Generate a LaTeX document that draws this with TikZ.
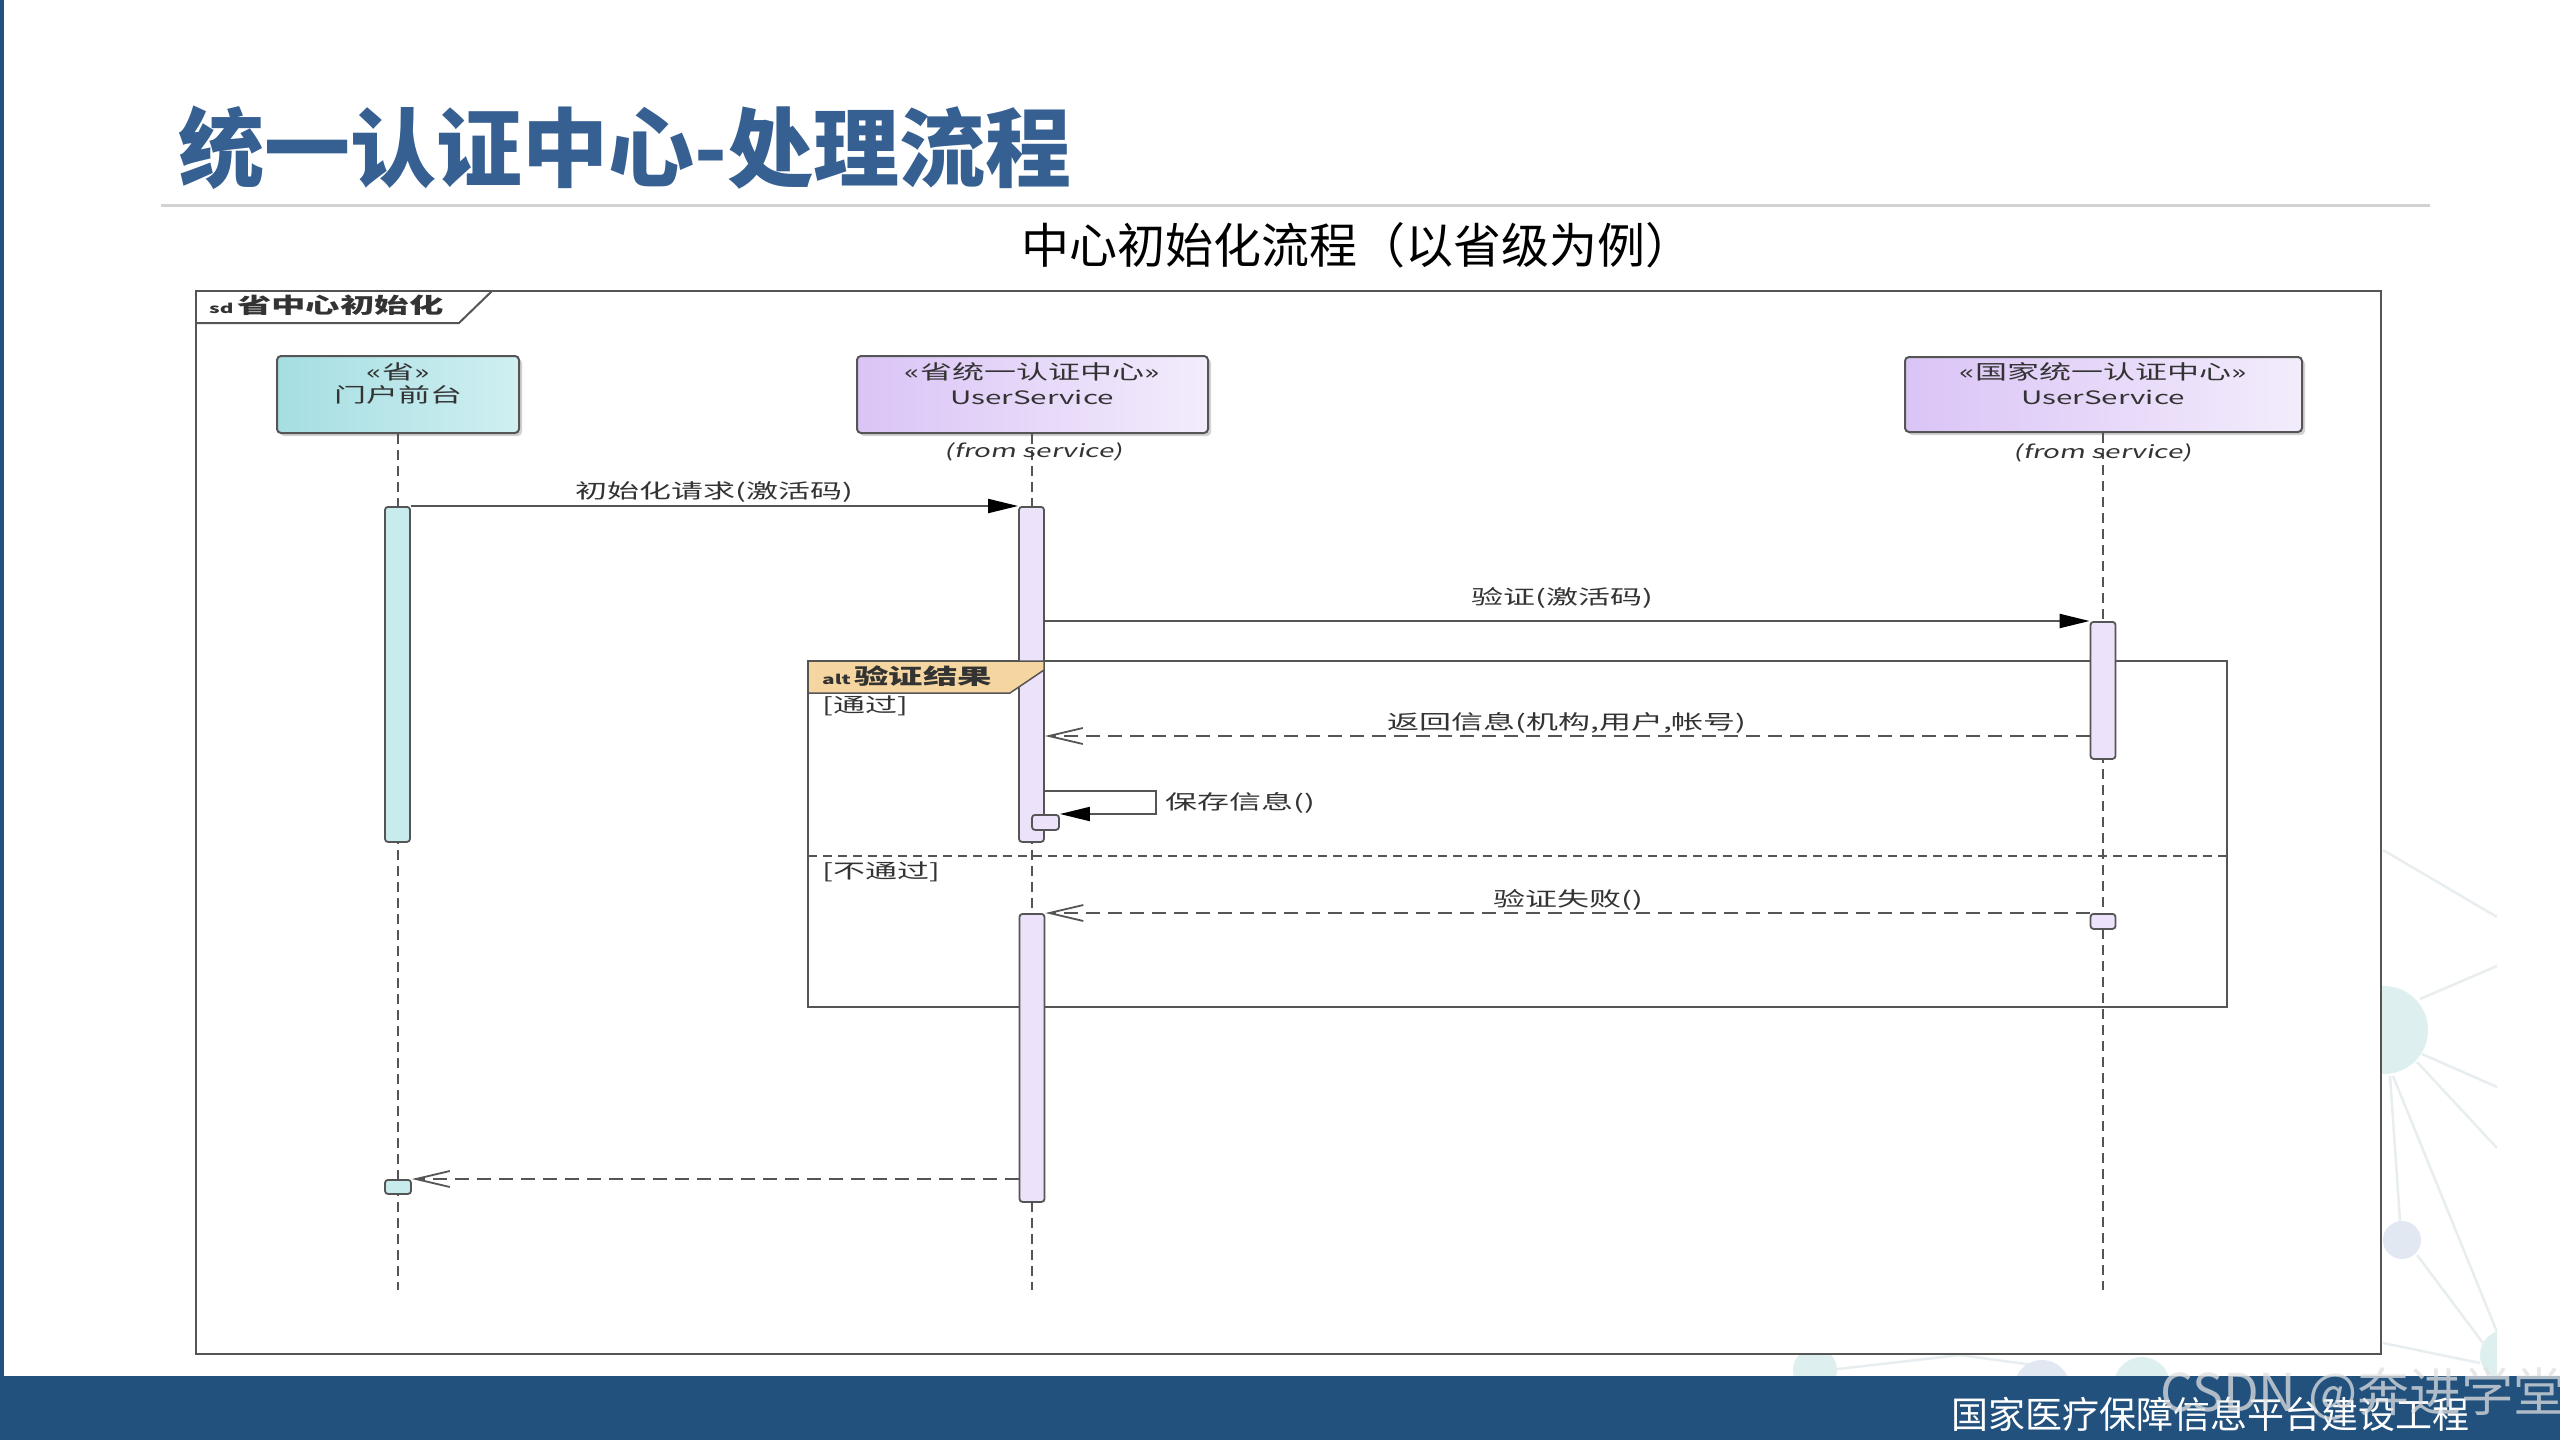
\documentclass[tikz,border=0pt]{standalone}
\usepackage{fontspec}
\usetikzlibrary{arrows.meta,shadows,shadings}
\newfontfamily\cjk{Noto Sans CJK SC}
\newfontfamily\dgm[FakeStretch=1.6]{Noto Sans CJK SC}
\newfontfamily\dgmit[FakeStretch=1.55,FakeSlant=0.2]{Noto Sans CJK SC}
\definecolor{titleblue}{RGB}{54,96,146}
\definecolor{band}{RGB}{34,81,125}
\definecolor{edge}{RGB}{85,85,85}
\definecolor{ink}{RGB}{51,51,51}
\definecolor{tealA}{RGB}{165,222,226}
\definecolor{tealB}{RGB}{208,239,241}
\definecolor{tealbar}{RGB}{200,236,238}
\definecolor{purA}{RGB}{218,196,246}
\definecolor{purB}{RGB}{243,236,252}
\definecolor{purbar}{RGB}{236,226,250}
\definecolor{altfill}{RGB}{246,214,160}
\definecolor{deco}{RGB}{222,239,240}
\definecolor{decoB}{RGB}{225,232,241}
\definecolor{decoline}{RGB}{232,238,240}
\definecolor{rule}{RGB}{210,210,210}
\begin{document}
\begin{tikzpicture}[x=1pt,y=-1pt,
  head/.style={draw=edge, line width=2pt, rounded corners=4pt, inner sep=0pt,
    drop shadow={shadow xshift=3pt, shadow yshift=-3pt, opacity=.35, fill=gray}},
  tealhead/.style={head, left color=tealA, right color=tealB},
  purhead/.style={head, left color=purA, right color=purB},
  htext/.style={inner sep=0pt, text=ink, font=\dgm\fontsize{20}{22}\selectfont},
  htextsm/.style={inner sep=0pt, text=ink, font=\dgm\fontsize{18.5}{20}\selectfont},
  fromtxt/.style={inner sep=0pt, text=ink, font=\dgmit\fontsize{18}{20}\selectfont},
  actbar/.style={draw=edge, line width=1.8pt, rounded corners=3pt, inner sep=0pt, anchor=north, minimum width=25pt},
  life/.style={draw=edge, line width=1.8pt, dash pattern=on 10pt off 6pt},
  call/.style={draw=edge, line width=2pt, -{Triangle[length=30pt,width=14pt,fill=black,color=black]}},
  ret/.style={draw=edge, line width=1.8pt, dash pattern=on 14pt off 8pt, -{Straight Barb[length=34pt,width=16pt,line width=1.8pt]}},
  msg/.style={inner sep=0pt, text=ink, font=\dgm\fontsize{20}{22}\selectfont},
  bold/.style={inner sep=0pt, text=ink, font=\dgm\bfseries\fontsize{21.5}{23}\selectfont}]
\useasboundingbox (0,0) rectangle (2560,1440);
\fill[white] (0,0) rectangle (2560,1440);
% background decoration
\begin{scope}
\clip (0,0) rectangle (2497,1440);
\begin{scope}[draw=decoline, line width=2.5pt]
\draw (2383,850) -- (2497,917);
\draw (2420,999) -- (2497,966);
\draw (2422,1054) -- (2497,1087);
\draw (2417,1062) -- (2497,1148);
\draw (2390,1076) -- (2400,1221);
\draw (2393,1076) -- (2497,1332);
\draw (2417,1255) -- (2483,1343);
\draw (2383,1343) -- (2480,1363);
\draw (1829,1370) -- (1960,1355) -- (2033,1365);
\end{scope}
\fill[deco] (2384,1030) circle (44);
\fill[decoB] (2402,1240) circle (19);
\fill[deco] (2505,1355) circle (25);
\fill[deco] (1815,1370) circle (22);
\fill[decoB] (2042,1388) circle (28);
\fill[deco] (2142,1385) circle (28);
\end{scope}
% slide chrome
\fill[band] (0,1376) rectangle (2560,1440);
\fill[band] (0,0) rectangle (4,1376);
\node[anchor=west, inner sep=0pt, text=titleblue, font=\cjk\bfseries\fontsize{86}{90}\selectfont] (title) at (178,148) {统一认证中心-处理流程};
\draw[rule, line width=3pt] (161,205) -- (2430,205);
\node[inner sep=0pt, text=black, font=\cjk\fontsize{48}{52}\selectfont] (subtitle) at (1357,245) {中心初始化流程（以省级为例）};
\node[inner sep=0pt, text=white, font=\cjk\fontsize{37}{40}\selectfont] (footer) at (2210,1414) {国家医疗保障信息平台建设工程};
\node[anchor=west, inner sep=0pt, text=white!75!gray, opacity=0.75, font=\cjk\fontsize{52}{54}\selectfont] (watermark) at (2160,1394) {CSDN @奔进学堂};
% frame
\draw[draw=edge, fill=white, line width=2.5pt] (196,291) rectangle (2381,1354);
\draw[draw=edge, line width=2pt] (196,323) -- (459,323) -- (492,291);
\node[bold, anchor=west] (sdlabel) at (209,305) {{\fontsize{13}{14}\selectfont sd}\,省中心初始化};
% heads
\node[tealhead, minimum width=242pt, minimum height=77pt] (h1) at (398,394.5) {};
\node[purhead, minimum width=351pt, minimum height=77pt] (h2) at (1032.5,394.5) {};
\node[purhead, minimum width=397pt, minimum height=75pt] (h3) at (2103.5,394.5) {};
\node[htext] (h1a) at (398,372) {«省»};
\node[htext] (h1b) at (398,395) {门户前台};
\node[htext] (h2a) at (1032,372) {«省统一认证中心»};
\node[htextsm] (h2b) at (1032,397) {UserService};
\node[htext] (h3a) at (2103,372) {«国家统一认证中心»};
\node[htextsm] (h3b) at (2103,397) {UserService};
% lifelines
\coordinate (l1e) at (398,1290);
\coordinate (l2e) at (1032,1290);
\coordinate (l3e) at (2103,1290);
\draw[life] (h1.south -| l1e) -- (l1e);
\draw[life] (h2.south -| l2e) -- (l2e);
\draw[life] (h3.south -| l3e) -- (l3e);
\node[fromtxt] (f2) at (1034,452) {(from service)};
\node[fromtxt] (f3) at (2103,453) {(from service)};
% alt fragment
\draw[draw=edge, line width=2.5pt] (808,661) rectangle (2227,1007);
\draw[draw=edge, line width=2pt, dash pattern=on 9pt off 6pt] (808,856) -- (2227,856);
\node[msg, anchor=west] (g1) at (822,706) {[通过]};
\node[msg, anchor=west] (g2) at (822,872) {[不通过]};
% activation bars
\node[actbar, fill=tealbar, minimum height=335pt] (a1) at (397.5,506) {};
\node[actbar, fill=purbar, minimum height=335pt] (a2) at (1031.5,506) {};
\node[actbar, fill=purbar, minimum height=137pt] (a3) at (2103,621) {};
\node[actbar, fill=purbar, minimum width=27pt, minimum height=15pt] (s1) at (1045.5,814) {};
\node[actbar, fill=purbar, minimum height=15pt] (a3s) at (2103,913) {};
\node[actbar, fill=purbar, minimum height=288pt] (a2b) at (1032,913) {};
\node[actbar, fill=tealbar, minimum width=26pt, minimum height=14pt] (a1s) at (398,1179) {};
% alt label on top of the bar
\filldraw[fill=altfill, draw=edge, line width=1.5pt] (808,661) -- (1044,661) -- (1044,670) -- (1010,693) -- (808,693) -- cycle;
\node[bold, anchor=west] (altlabel) at (822,676) {{\fontsize{13}{14}\selectfont alt}\,验证结果};
% messages
\coordinate (y736) at (0,736);
\coordinate (s0) at (1156,791);
\draw[call] (a1.north east) -- (a2.north west);
\draw[call] (a2.east |- a3.north) -- (a3.north west);
\draw[ret] (a3.west |- y736) -- (a2.east |- y736);
\draw[call] (a2.east |- s0) -- (s0) -- (s0 |- s1.north) -- (s1.north east);
\draw[ret] (a3s.north west) -- (a2b.north east);
\draw[ret] (a2b.west |- a1s.north) -- (a1s.north east);
\node[msg] (m1) at (714,492) {初始化请求(激活码)};
\node[msg] (m2) at (1562,598) {验证(激活码)};
\node[msg] (m3) at (1567,723) {返回信息(机构,用户,帐号)};
\node[msg, anchor=west] (m4) at (1165,803) {保存信息()};
\node[msg] (m5) at (1568,900) {验证失败()};
\end{tikzpicture}
\end{document}
